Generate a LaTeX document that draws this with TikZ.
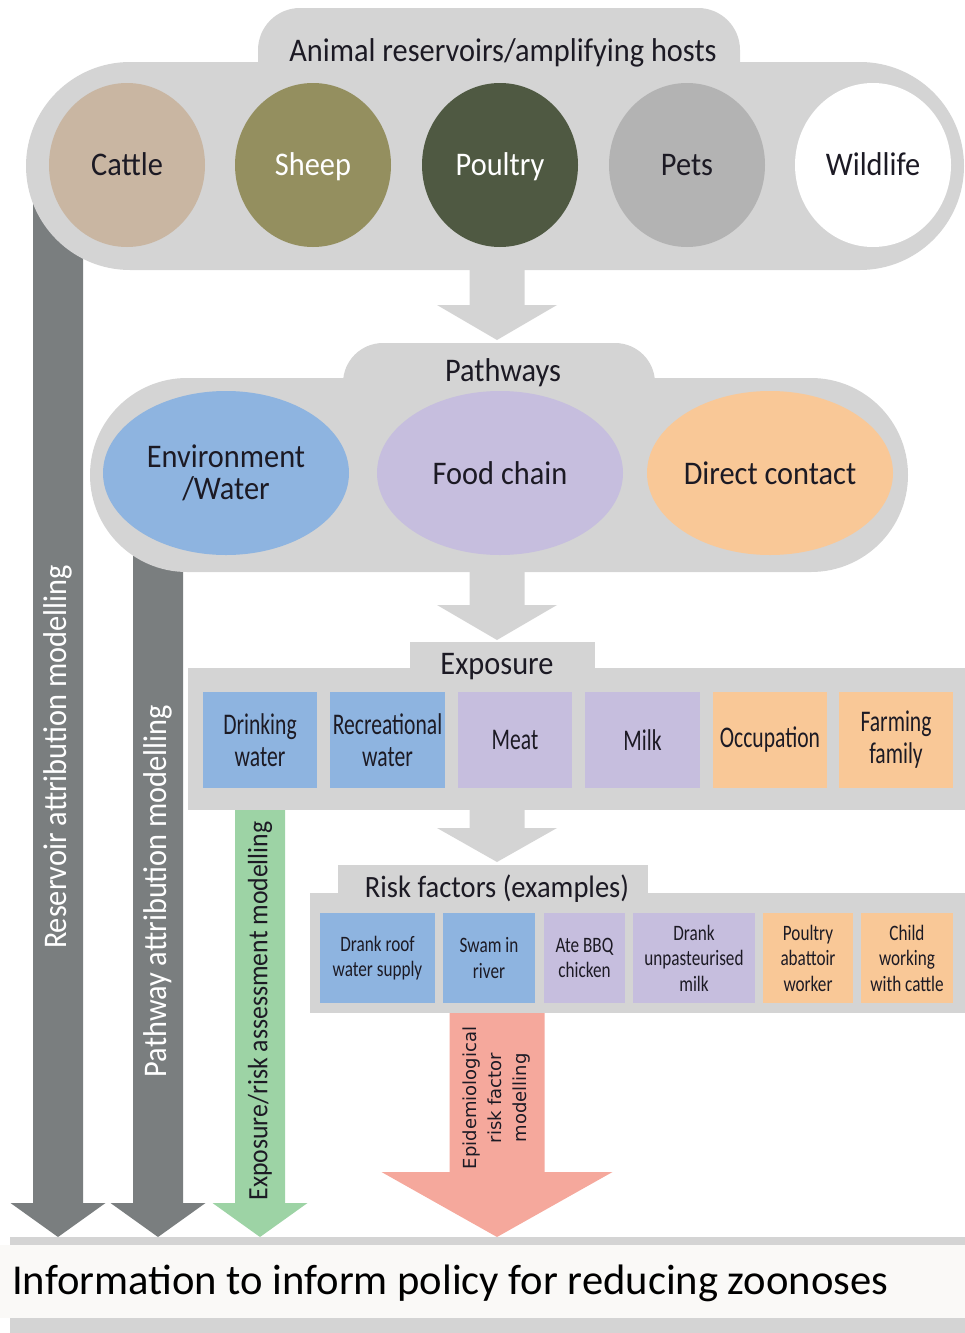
\documentclass[tikz,border=0pt]{standalone}
\usepackage{fontspec}
\setmainfont{Carlito}
\newfontfamily\mainf[FakeStretch=0.92]{Carlito}
\newfontfamily\condf[FakeStretch=0.72]{Carlito}
\newfontfamily\riskf[FakeStretch=0.78]{Carlito}
\newfontfamily\epif{DejaVu Sans}
\usetikzlibrary{shapes.geometric}
\definecolor{bargray}{HTML}{D4D4D4}
\definecolor{cattlec}{HTML}{C9B6A2}
\definecolor{sheepc}{HTML}{948F5F}
\definecolor{poultryc}{HTML}{4F5942}
\definecolor{petsc}{HTML}{B3B3B3}
\definecolor{bluec}{HTML}{8EB4E0}
\definecolor{lavc}{HTML}{C6BEDE}
\definecolor{peachc}{HTML}{F9C897}
\definecolor{darkarrow}{HTML}{7A7E7F}
\definecolor{greenc}{HTML}{9DD3A5}
\definecolor{salmonc}{HTML}{F5A89C}
\definecolor{bottomw}{HTML}{FAF9F7}
\definecolor{textc}{HTML}{1C1A24}
% #1 colour, #2 centre x, #3 top y, #4 shaft width, #5 head width, #6 head top y, #7 tip y
\newcommand\blockarrow[7]{%
  \fill[#1] ({#2-#4/2},#3) -- ({#2+#4/2},#3) -- ({#2+#4/2},#6) -- ({#2+#5/2},#6)
    -- (#2,#7) -- ({#2-#5/2},#6) -- ({#2-#4/2},#6) -- cycle;}
\tikzset{
  animal/.style={ellipse, minimum width=156, minimum height=164, inner sep=0pt,
    font=\mainf\fontsize{33}{36}\selectfont, text=textc, text height=23pt, text depth=3pt},
  pathw/.style={ellipse, minimum width=246, minimum height=164, inner sep=0pt,
    font=\mainf\fontsize{33}{32}\selectfont, text=textc, align=center},
  expbox/.style={rectangle, minimum height=96, inner sep=0pt, align=center,
    font=\condf\fontsize{30}{32}\selectfont, text=textc},
  riskbox/.style={rectangle, minimum height=90, inner sep=0pt, align=center,
    font=\riskf\fontsize{22}{25.5}\selectfont, text=textc},
  title/.style={font=\mainf\fontsize{33}{36}\selectfont, text=textc, inner sep=0pt,
    text height=23pt, text depth=3pt},
  vtext/.style={rotate=90, inner sep=0pt, font=\mainf\fontsize{33}{36}\selectfont}
}
\begin{document}
\begin{tikzpicture}[x=1pt,y=-1pt]
\useasboundingbox (0,0) rectangle (965,1333);
% long modelling arrows (behind the bars)
\blockarrow{darkarrow}{58}{200}{50}{95}{1203}{1237}
\blockarrow{darkarrow}{158}{540}{50}{95}{1203}{1237}
\blockarrow{greenc}{260}{805}{50}{95}{1203}{1237}
\blockarrow{salmonc}{497}{1010}{95}{231}{1172}{1237}
% gray connecting arrows
\blockarrow{bargray}{497}{265}{55}{120}{305}{340}
\blockarrow{bargray}{497}{568}{55}{120}{605}{640}
\blockarrow{bargray}{497}{806}{55}{120}{828}{862}
% animal reservoirs
\fill[bargray, rounded corners=42] (258,8) rectangle (740,110);
\fill[bargray, rounded corners=104] (26,62) rectangle (964,270);
\node[title] (hosts) at (503,51) {Animal reservoirs/amplifying hosts};
\node[animal, fill=cattlec] (cattle) at (127,165) {Cattle};
\node[animal, fill=sheepc, text=white] (sheep) at (313,165) {Sheep};
\node[animal, fill=poultryc, text=white] (poultry) at (500,165) {Poultry};
\node[animal, fill=petsc] (pets) at (687,165) {Pets};
\node[animal, fill=white] (wildlife) at (873,165) {Wildlife};
% pathways
\fill[bargray, rounded corners=40] (343,343) rectangle (655,420);
\fill[bargray, rounded corners=97] (90,378) rectangle (908,572);
\node[title] (pathways) at (503,371) {Pathways};
\node[pathw, fill=bluec] (env) at (226,473) {Environment\\/Water};
\node[pathw, fill=lavc] (food) at (500,473) {Food chain};
\node[pathw, fill=peachc] (direct) at (770,473) {Direct contact};
% exposure
\fill[bargray] (410,642) rectangle (595,680);
\fill[bargray] (188,668) rectangle (965,810);
\node[title] (exposure) at (497,664) {Exposure};
\node[expbox, fill=bluec, minimum width=114] (drink) at (260,740) {Drinking\\water};
\node[expbox, fill=bluec, minimum width=115] (recr) at (387.5,740) {Recreational\\water};
\node[expbox, fill=lavc, minimum width=114] (meat) at (515,740) {Meat};
\node[expbox, fill=lavc, minimum width=115] (milk) at (642.5,740) {Milk};
\node[expbox, fill=peachc, minimum width=114] (occ) at (770,740) {Occupation};
\node[expbox, fill=peachc, minimum width=114] (farm) at (896,740) {Farming\\family};
% risk factors
\fill[bargray] (338,865) rectangle (648,900);
\fill[bargray] (310,893) rectangle (965,1013);
\node[title, font=\mainf\fontsize{31}{34}\selectfont] (risk) at (497,887) {Risk factors (examples)};
\node[riskbox, fill=bluec, minimum width=115] (roof) at (377.5,958) {Drank roof\\water supply};
\node[riskbox, fill=bluec, minimum width=92] (swam) at (489,958) {Swam in\\river};
\node[riskbox, fill=lavc, minimum width=81] (bbq) at (584.5,958) {Ate BBQ\\chicken};
\node[riskbox, fill=lavc, minimum width=122] (unpast) at (694,958) {Drank\\unpasteurised\\milk};
\node[riskbox, fill=peachc, minimum width=90] (abat) at (808,958) {Poultry\\abattoir\\worker};
\node[riskbox, fill=peachc, minimum width=92] (child) at (907,958) {Child\\working\\with cattle};
% arrow labels
\node[vtext, text=white] (resl) at (58,757) {Reservoir attribution modelling};
\node[vtext, text=white] (pathl) at (158,891) {Pathway attribution modelling};
\node[vtext, text=textc, font=\mainf\fontsize{28}{30}\selectfont] (expl) at (260,1011) {Exposure/risk assessment modelling};
\node[rotate=90, inner sep=0pt, align=center, text=textc, font=\epif\fontsize{18}{25}\selectfont] (epil) at (497,1098) {Epidemiological\\risk factor\\modelling};
% bottom
\fill[bargray] (10,1237) rectangle (965,1333);
\fill[bottomw] (0,1245) rectangle (965,1318);
\node[anchor=west, inner sep=0pt, text=black, font=\fontsize{42.6}{46}\selectfont] (info) at (12,1283) {Information to inform policy for reducing zoonoses};
\end{tikzpicture}
\end{document}
